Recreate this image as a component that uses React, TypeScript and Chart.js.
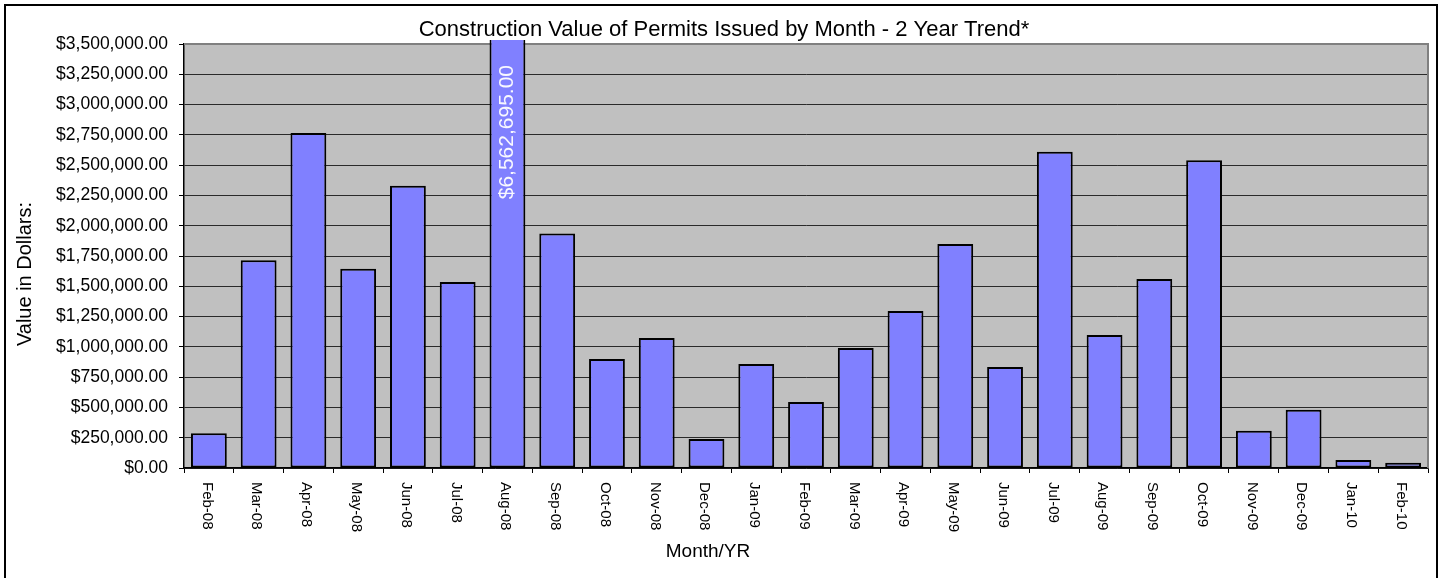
import React, { useEffect, useRef } from 'react';
import { Chart, registerables } from 'chart.js';

Chart.register(...registerables);

const categories = [
  'Feb-08', 'Mar-08', 'Apr-08', 'May-08', 'Jun-08', 'Jul-08', 'Aug-08', 'Sep-08',
  'Oct-08', 'Nov-08', 'Dec-08', 'Jan-09', 'Feb-09', 'Mar-09', 'Apr-09', 'May-09',
  'Jun-09', 'Jul-09', 'Aug-09', 'Sep-09', 'Oct-09', 'Nov-09', 'Dec-09', 'Jan-10', 'Feb-10',
];

const values = [
  286000, 1715000, 2765000, 1645000, 2330000, 1535000, 6562695, 1935000,
  900000, 1073000, 240000, 858000, 545000, 990000, 1296000, 1849000,
  834000, 2610000, 1098000, 1560000, 2540000, 308000, 481000, 66000, 44000,
];

const yMin = 0;
const yMax = 3500000;
const yStep = 250000;

const chartTitle = 'Construction Value of Permits Issued by Month - 2 Year Trend*';
const xAxisTitle = 'Month/YR';
const yAxisTitle = 'Value in Dollars:';

const FONT = '"Liberation Sans", Arial, sans-serif';

function money(v: number): string {
  const fixed = Math.abs(v).toFixed(2);
  const [intPart, dec] = fixed.split('.');
  return '$' + intPart.replace(/\B(?=(\d{3})+(?!\d))/g, ',') + '.' + dec;
}

const decor = {
  id: 'decor',
  beforeDraw(chart: any) {
    const { ctx, chartArea: a } = chart;
    ctx.save();
    ctx.fillStyle = '#ffffff';
    ctx.fillRect(0, 0, chart.width, chart.height);
    ctx.fillStyle = '#C0C0C0';
    ctx.fillRect(a.left, a.top, a.right - a.left, a.bottom - a.top);
    ctx.strokeStyle = '#000000';
    ctx.lineWidth = 2;
    ctx.strokeRect(5, 5, 1432, 640);
    ctx.restore();
  },
  beforeDatasetsDraw(chart: any) {
    const { ctx, chartArea: a } = chart;
    ctx.save();
    ctx.strokeStyle = '#808080';
    ctx.lineWidth = 2;
    ctx.beginPath();
    ctx.moveTo(a.left, a.top);
    ctx.lineTo(a.right, a.top);
    ctx.lineTo(a.right, a.bottom);
    ctx.stroke();
    ctx.restore();
  },
  afterDatasetsDraw(chart: any) {
    const { ctx, chartArea: a } = chart;
    const meta = chart.getDatasetMeta(0);
    ctx.save();
    values.forEach((v, i) => {
      if (v > yMax) {
        const el = meta.data[i];
        ctx.save();
        ctx.translate(el.x, a.top + 21);
        ctx.rotate(-Math.PI / 2);
        ctx.font = `21px ${FONT}`;
        ctx.fillStyle = '#F8F8FF';
        ctx.textAlign = 'right';
        ctx.textBaseline = 'middle';
        ctx.fillText(money(v), 0, 0);
        ctx.restore();
      }
    });
    ctx.restore();
  },
  afterDraw(chart: any) {
    const { ctx, chartArea: a } = chart;
    const xs = chart.scales.x;
    ctx.save();
    ctx.fillStyle = '#000000';
    ctx.font = `22px ${FONT}`;
    ctx.textAlign = 'center';
    ctx.textBaseline = 'middle';
    ctx.fillText(chartTitle, 724, 30);

    ctx.font = `15px ${FONT}`;
    ctx.textAlign = 'left';
    categories.forEach((c, i) => {
      const x = xs.getPixelForTick(i);
      ctx.save();
      ctx.translate(x - 2, a.bottom + 14);
      ctx.rotate(Math.PI / 2);
      ctx.fillText(c, 0, 0);
      ctx.restore();
    });
    ctx.font = `19px ${FONT}`;
    ctx.textAlign = 'center';
    ctx.fillText(xAxisTitle, 708, 552);
    ctx.save();
    ctx.translate(25, 274);
    ctx.rotate(-Math.PI / 2);
    ctx.font = `20px ${FONT}`;
    ctx.fillText(yAxisTitle, 0, 0);
    ctx.restore();
    ctx.restore();
  },
};

export default function App() {
  const ref = useRef<HTMLCanvasElement | null>(null);

  useEffect(() => {
    document.body.style.margin = '0';
    const canvas = ref.current;
    if (!canvas) return;
    const chart = new Chart(canvas, {
      type: 'bar',
      data: {
        labels: categories,
        datasets: [
          {
            data: values,
            backgroundColor: '#8080FF',
            borderColor: '#000000',
            borderWidth: 2,
            borderSkipped: false,
            barPercentage: 0.72,
            categoryPercentage: 1,
            clip: { left: 0, right: 0, top: 4, bottom: 0 } as any,
          },
        ],
      },
      options: {
        responsive: false,
        animation: false,
        events: [],
        layout: { padding: { left: 0, right: 14, top: 44, bottom: 0 } },
        plugins: {
          legend: { display: false },
          tooltip: { enabled: false },
          title: { display: false },
        },
        scales: {
          x: {
            type: 'category',
            offset: true,
            grid: {
              display: true,
              offset: true,
              drawOnChartArea: false,
              drawTicks: true,
              tickLength: 5,
              tickColor: '#000000',
              tickWidth: 1,
            },
            border: { display: true, color: '#000000', width: 1.5 },
            ticks: { display: false },
            afterFit: (s: any) => {
              s.height = 110;
            },
          },
          y: {
            min: yMin,
            max: yMax,
            grid: {
              color: '#2a2a2a',
              lineWidth: 1,
              drawTicks: true,
              tickLength: 5,
              tickColor: '#000000',
            },
            border: { display: true, color: '#000000', width: 1.5 },
            ticks: {
              stepSize: yStep,
              color: '#000000',
              padding: 11,
              font: { family: FONT, size: 17.5 },
              callback: (v: any) => money(Number(v)),
            },
            afterFit: (s: any) => {
              s.width = 184;
            },
          },
        },
      },
      plugins: [decor],
    });
    return () => chart.destroy();
  }, []);

  return (
    <div style={{ width: 1442, height: 578, position: 'relative' }}>
      <canvas ref={ref} width={1442} height={578} style={{ display: 'block' }} />
    </div>
  );
}
